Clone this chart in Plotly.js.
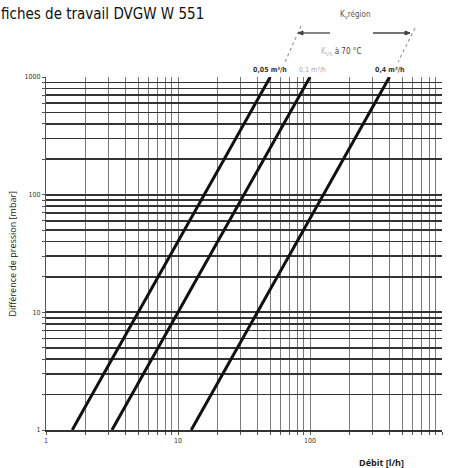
<!DOCTYPE html>
<html>
<head>
<meta charset="utf-8">
<script src="https://cdn.plot.ly/plotly-3.0.1.min.js"></script>
<style>html,body{margin:0;padding:0;background:#fff;}#chart{width:449px;height:468px;}</style>
</head>
<body>
<div id="chart"></div>
<script>
// Kvs curves: flow [l/h] at 1 mbar and 1000 mbar
const seriesNames = ["0,05 m³/h", "0,1 m³/h", "0,4 m³/h"];
const flowAt1 = [1.58, 3.16, 12.6];
const flowAt1000 = [50, 100, 400];
const pressureEnds = [1, 1000];
const decadeLabels = ["1", "10", "100", "1000"];
const decades = [1, 10, 100, 1000];

// grid values at every 1..9 multiple of each decade
const gridVals = [];
const gridText = [];
for (let d = 0; d < decades.length; d++) {
  const limit = d === decades.length - 1 ? 1 : 9;
  for (let m = 1; m <= limit; m++) {
    gridVals.push(decades[d] * m);
    gridText.push(m === 1 ? decadeLabels[d] : " ");
  }
}

const traces = seriesNames.map((n, i) => ({
  type: "scatter", mode: "lines", name: n,
  x: [flowAt1[i], flowAt1000[i]], y: pressureEnds,
  line: {color: "#111", width: 3}, showlegend: false, hoverinfo: "skip"
}));

const narrow = "Liberation Sans Narrow, Arial Narrow, DejaVu Sans Condensed, sans-serif";
const tickFont = {family: narrow, size: 7, color: "#333"};
const layout = {
  width: 449, height: 468,
  margin: {l: 46, r: 7, t: 77, b: 38},
  paper_bgcolor: "#fff", plot_bgcolor: "#fff",
  showlegend: false,
  xaxis: {
    type: "log", range: [0, 3], tickmode: "array", tickvals: gridVals, ticktext: gridText,
    tickangle: 0,
    showgrid: true, gridcolor: "#7a7a7a", gridwidth: 1,
    ticks: "outside", ticklen: 3, tickcolor: "#555", tickfont: tickFont,
    showline: true, linecolor: "#333", linewidth: 1.5, zeroline: false, mirror: false,
    title: {text: ""}
  },
  yaxis: {
    type: "log", range: [0, 3], tickmode: "array", tickvals: gridVals, ticktext: gridText,
    tickangle: 0,
    showgrid: true, gridcolor: "#333", gridwidth: 1.7,
    ticks: "outside", ticklen: 3, tickcolor: "#555", tickfont: tickFont,
    showline: true, linecolor: "#555", linewidth: 1, zeroline: false,
    title: {text: ""}
  },
  annotations: [
    {xref: "paper", yref: "paper", x: 0, y: 1, xanchor: "left", yanchor: "top",
     text: "fiches de travail DVGW W 551", showarrow: false,
     font: {family: narrow, size: 15, color: "#111"},
     xshift: -47, yshift: 74},
    {xref: "paper", yref: "paper", x: 0, y: 0.5, xanchor: "center", yanchor: "middle",
     text: "Différence de pression [mbar]", textangle: -90, showarrow: false,
     font: {family: "Open Sans, sans-serif", size: 9, color: "#222"}, xshift: -34},
    {xref: "paper", yref: "paper", x: 1, y: 0, xanchor: "right", yanchor: "top",
     text: "<b>Débit [l/h]</b>", showarrow: false,
     font: {family: "Open Sans, sans-serif", size: 9, color: "#222"}, xshift: -36, yshift: -24},
    {xref: "x", yref: "paper", x: Math.log10(flowAt1000[0]), y: 1, yanchor: "bottom", xanchor: "center",
     text: "<b>0,05 m³/h</b>", showarrow: false, yshift: 1,
     font: {family: narrow, size: 7, color: "#333"}},
    {xref: "x", yref: "paper", x: Math.log10(flowAt1000[1]), y: 1, yanchor: "bottom", xanchor: "center",
     text: "0,1 m³/h", showarrow: false, yshift: 1, xshift: 2,
     font: {family: narrow, size: 7, color: "#aaa"}},
    {xref: "x", yref: "paper", x: Math.log10(flowAt1000[2]), y: 1, yanchor: "bottom", xanchor: "center",
     text: "<b>0,4 m³/h</b>", showarrow: false, yshift: 1,
     font: {family: narrow, size: 7, color: "#333"}},
    {xref: "paper", yref: "paper", x: 0.745, y: 1, yanchor: "bottom", xanchor: "center",
     text: "<span style='color:#bbb'>K<sub>VS</sub></span> à 70 °C", showarrow: false, yshift: 18,
     font: {family: narrow, size: 8, color: "#444"}},
    {xref: "paper", yref: "paper", x: 0.78, y: 1, yanchor: "bottom", xanchor: "center",
     text: "K<sub>v</sub>région", showarrow: false, yshift: 55,
     font: {family: narrow, size: 8, color: "#555"}}
  ],
  shapes: [
    {type: "line", xref: "paper", yref: "paper", x0: (298-46)/396, x1: (330-46)/396, y0: 1 + 44/353, y1: 1 + 44/353,
     line: {color: "#444", width: 1.3}},
    {type: "line", xref: "paper", yref: "paper", x0: (373-46)/396, x1: (410-46)/396, y0: 1 + 44/353, y1: 1 + 44/353,
     line: {color: "#444", width: 1.3}},
    {type: "line", xref: "paper", yref: "paper", x0: (301-46)/396, x1: (285-46)/396, y0: 1 + 51/353, y1: 1 + 15/353,
     line: {color: "#999", width: 1.2, dash: "dot"}},
    {type: "line", xref: "paper", yref: "paper", x0: (415-46)/396, x1: (398-46)/396, y0: 1 + 49/353, y1: 1 + 15/353,
     line: {color: "#999", width: 1.2, dash: "dot"}},
    {type: "path", xref: "paper", yref: "paper",
     path: "M " + (298-46)/396 + " " + (1+44/353) + " L " + (303-46)/396 + " " + (1+46/353) + " L " + (303-46)/396 + " " + (1+42/353) + " Z",
     fillcolor: "#444", line: {color: "#444", width: 1}},
    {type: "path", xref: "paper", yref: "paper",
     path: "M " + (410-46)/396 + " " + (1+44/353) + " L " + (405-46)/396 + " " + (1+46/353) + " L " + (405-46)/396 + " " + (1+42/353) + " Z",
     fillcolor: "#444", line: {color: "#444", width: 1}}
  ]
};

Plotly.newPlot("chart", traces, layout, {staticPlot: true, displayModeBar: false});
</script>
</body>
</html>
